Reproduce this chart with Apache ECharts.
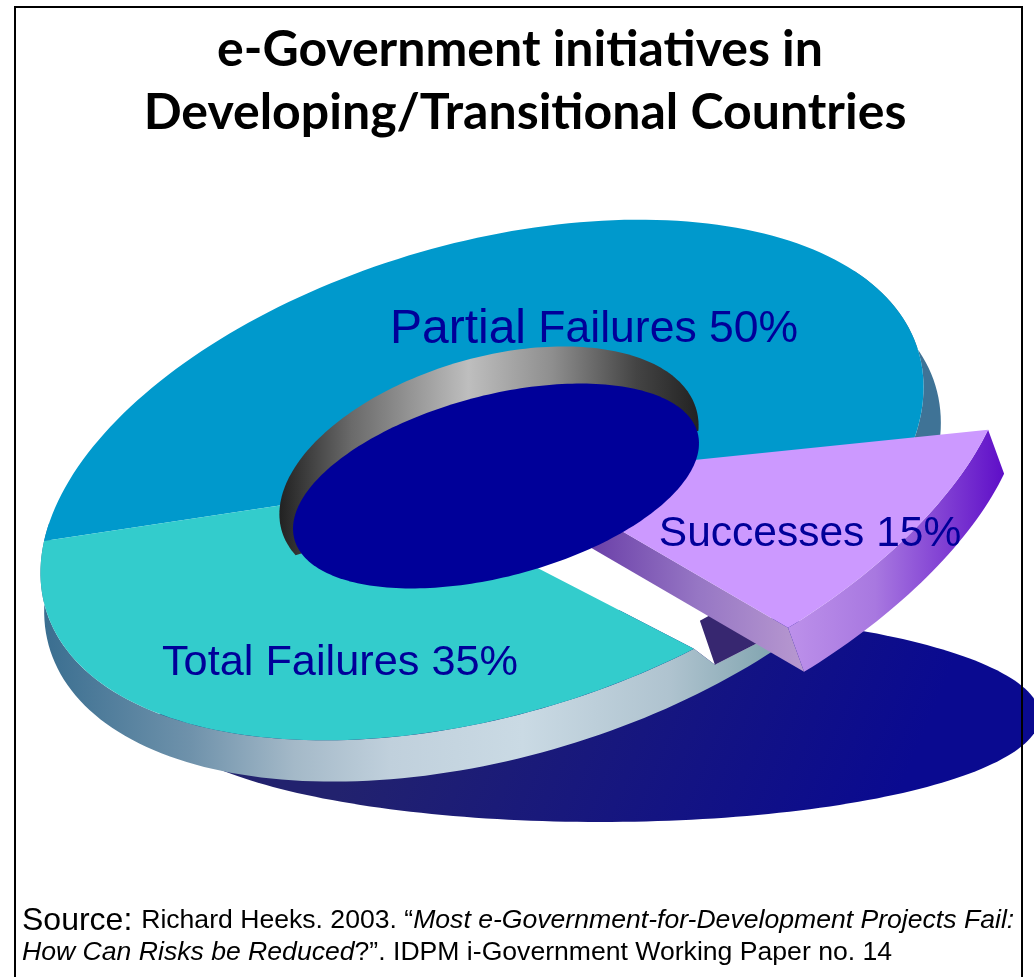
<!DOCTYPE html>
<html>
<head>
<meta charset="utf-8">
<style>html,body{margin:0;padding:0;background:#fff}#chart{width:1034px;height:977px}</style>
<script src="https://cdn.jsdelivr.net/npm/echarts@6/dist/echarts.min.js"></script>
</head>
<body>
<div id="chart"></div>
<script>
// Outcome shares, in drawing order clockwise from the start angle
const categories = ['Partial Failures', 'Successes', 'Total Failures'];
const shares = [50, 15, 35];
const sliceColors = ['#0099CC', '#CC99FF', '#33CCCC'];
const titleLines = ['e-Government initiatives in', 'Developing/Transitional Countries'];

const START_ANGLE = 196;
const DEG = Math.PI / 180;

// An elliptical frame: centre plus the two axis vectors of the tilted disc
function tilted(cx, cy, a, b, tiltDeg) {
  const c = Math.cos(tiltDeg * DEG), s = Math.sin(tiltDeg * DEG);
  return { cx, cy, ux: a * c, uy: a * s, vx: -b * s, vy: b * c };
}
function at(f, deg) {
  const c = Math.cos(deg * DEG), s = Math.sin(deg * DEG);
  return [f.cx + f.ux * c + f.vx * s, f.cy + f.uy * c + f.vy * s];
}
function arc(f, from, to) {
  const n = Math.max(2, Math.ceil(Math.abs(to - from) / 1.5));
  const pts = [];
  for (let i = 0; i <= n; i++) pts.push(at(f, from + (to - from) * i / n));
  return pts;
}
const shift = (p, dx, dy) => [p[0] + dx, p[1] + dy];

const disc = tilted(482, 480, 455, 236, -16.4);
const wall = tilted(492.5, 517, 462, 240, -16.4);
const rim = tilted(489, 470, 216, 112, -16.4);
const hub = tilted(496, 486, 208.5, 90.7, -14.7);
const castShadow = tilted(600, 716, 440, 106, 0);
// The pulled-out slice sits on its own, slightly skewed frame
const pulled = { cx: 702, cy: 495, ux: 303, uy: -121, vx: -18.7, vy: 185.4 };
const PULLED_DEPTH = [16, 44];
const PULLED_APEX = [529, 477];
const DISC_CENTRE = [482, 475];

// Angular range of each slice, derived from its share
const ranges = [];
shares.reduce((start, v) => {
  const end = start + v * 3.6;
  ranges.push([start, end]);
  return end;
}, START_ANGLE);

const ramp = (x0, y0, x1, y1, stops) => new echarts.graphic.LinearGradient(
  x0, y0, x1, y1, stops.map(([offset, color]) => ({ offset, color })), true);
const grad = (x0, x1, stops) => ramp(x0, 0, x1, 0, stops);
const poly = (points, fill) => ({
  type: 'polygon', shape: { points }, style: { fill, stroke: null }, silent: true
});

function layer(name, z, draw, data) {
  return {
    type: 'custom', name, z, coordinateSystem: 'none', silent: true, clip: false,
    data: data || [0],
    renderItem: (params) => ({ type: 'group', children: draw(params.dataIndex) })
  };
}

const [partial, success, total] = ranges;
const cutEnd = at(disc, total[0]);               // where the lower slice was cut
const wallTip = shift(cutEnd, 21, 16);

const series = [
  layer('cast shadow', 2, () => [poly(arc(castShadow, 0, 360), ramp(400, 640, 880, 840, [[0, '#22226E'], [1, '#0A0A90']]))]),

  layer('disc edge', 3, () => [
    // Empty gap left behind by the pulled-out slice
    poly([shift(cutEnd, -182, -94), cutEnd, wallTip, shift(wallTip, 60, -15), shift(wallTip, -10, -80)], '#ffffff'),
    poly(arc(wall, partial[1] - 40, partial[1] + 6).concat(arc(disc, partial[1] + 6, partial[1] - 40)), '#3F7396'),
    poly(arc(wall, total[1] + 4, total[0] - 12)
      .concat([shift(wallTip, 55, -28), wallTip, cutEnd])
      .concat(arc(disc, total[0], total[1] + 4)),
      grad(44, 780, [[0, '#3A6E90'], [0.2, '#6F92AB'], [0.34, '#A4B9C8'], [0.47, '#C0D0DC'], [0.65, '#CADAE4'], [0.85, '#AFC3CF'], [1, '#7FA3AE']])),
    poly([shift(wallTip, -15, -44), shift(wallTip, 5, -55), shift(wallTip, 60, -15), shift(wallTip, 55, -28), wallTip], '#372770')
  ]),

  layer('disc top', 4, () => [
    poly(arc(disc, partial[0], partial[1] + 8).concat([DISC_CENTRE]), sliceColors[0]),
    poly(arc(disc, total[0], total[1]).concat([DISC_CENTRE, shift(cutEnd, -182, -94)]), sliceColors[2])
  ]),

  layer('hole wall', 5, () => [
    poly(arc(rim, 166, 371), grad(280, 699, [[0, '#222222'], [0.17, '#6A6A6A'], [0.45, '#BEBEBE'], [0.65, '#8E8E8E'], [0.85, '#444444'], [1, '#222222']]))
  ]),

  layer('pulled slice', 6, () => {
    const p1 = at(pulled, success[1]);
    const [dx, dy] = PULLED_DEPTH;
    return [
      poly([PULLED_APEX, p1, shift(p1, dx, dy), shift(PULLED_APEX, dx, dy)],
        grad(590, 805, [[0, '#6A3FA8'], [0.5, '#9676C4'], [1, '#B899D0']])),
      poly(arc(pulled, success[0], success[1]).concat(arc(pulled, success[1], success[0]).map(p => shift(p, dx, dy))),
        grad(790, 1003, [[0, '#BC90EA'], [0.4, '#A878E0'], [1, '#5F0FC8']])),
      poly(arc(pulled, success[0], success[1]).concat([PULLED_APEX]), sliceColors[1])
    ];
  }),

  layer('hub', 7, () => [poly(arc(hub, 0, 360), '#000099')]),

  layer('labels', 8, (i) => {
    const spot = [[594, 330], [810, 534], [340, 663]][i];
    const text = categories[i] + ' ' + shares[i] + '%';
    const sizes = [44, 42.5, 43.3];
    const style = {
      x: spot[0], y: spot[1], align: 'center', verticalAlign: 'middle',
      fill: '#000099', fontFamily: 'Liberation Sans', fontSize: sizes[i]
    };
    if (i === 0) {
      const [first, rest] = [text.slice(0, 7), text.slice(7)];
      style.text = '{a|' + first + '}{b|' + rest + '}';
      style.rich = {
        a: { fontSize: 48, fontFamily: 'Liberation Sans', fill: '#000099' },
        b: { fontSize: 44.5, fontFamily: 'Liberation Sans', fill: '#000099' }
      };
    } else {
      style.text = text;
    }
    return [{ type: 'text', style, silent: true }];
  }, [0, 1, 2])
];

const sourceRich = {
  big: { fontSize: 32, fontFamily: 'Liberation Sans', fill: '#000' },
  n: { fontSize: 26.6, fontFamily: 'Liberation Sans', fill: '#000' },
  i: { fontSize: 26.6, fontFamily: 'Liberation Sans', fontStyle: 'italic', fill: '#000' }
};

const titleStyle = { fontFamily: 'Lato', fontWeight: 'bold', fontSize: 50, lineHeight: 64, color: '#000' };

const chart = echarts.init(document.getElementById('chart'), null, { renderer: 'canvas' });
chart.setOption({
  animation: false,
  backgroundColor: '#fff',
  title: [
    { text: titleLines[0], left: 515, top: 13, textAlign: 'center', textStyle: titleStyle },
    { text: titleLines[1], left: 520, top: 76, textAlign: 'center', textStyle: titleStyle }
  ],
  graphic: [
    { type: 'polyline', z: 20, silent: true,
      shape: { points: [[15, 980], [15, 7], [1022, 7], [1022, 980]] },
      style: { stroke: '#000', lineWidth: 2, fill: null } },
    { type: 'text', z: 10, silent: true, left: 22, top: 905,
      style: { text: '{big|Source: }{n|Richard Heeks. 2003. “}{i|Most e-Government-for-Development Projects Fail:}', rich: sourceRich } },
    { type: 'text', z: 10, silent: true, left: 22, top: 939,
      style: { text: '{i|How Can Risks be Reduced}{n|?”. IDPM i-Government Working Paper no. 14}', rich: sourceRich } }
  ],
  series
});
</script>
</body>
</html>
